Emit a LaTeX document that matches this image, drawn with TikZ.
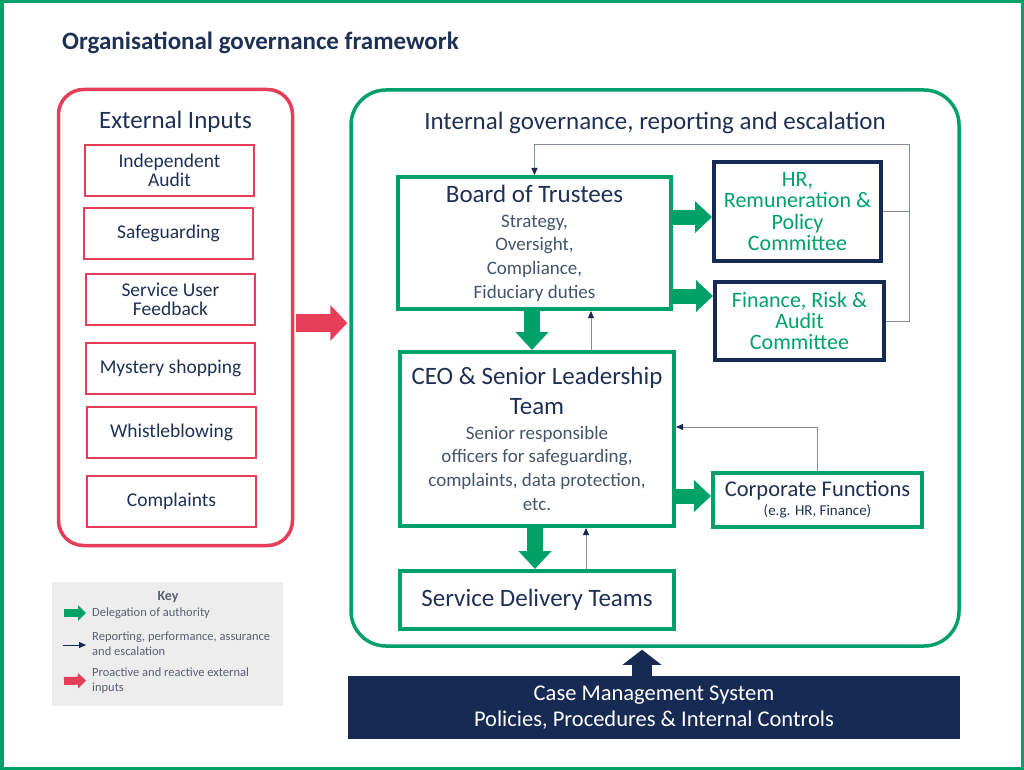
\documentclass[tikz,border=0pt]{standalone}
\usepackage{fontspec}
\setmainfont{Carlito}
\usetikzlibrary{positioning, arrows.meta, calc}

\definecolor{govgreen}{RGB}{0,160,105}
\definecolor{govred}{RGB}{230,62,88}
\definecolor{govnavy}{RGB}{23,42,84}
\definecolor{titlenavy}{RGB}{31,48,85}
\definecolor{bodygrey}{RGB}{68,84,106}
\definecolor{linegrey}{RGB}{130,140,158}
\definecolor{keygrey}{RGB}{237,237,237}
\definecolor{keytext}{RGB}{89,96,110}

\newcommand{\gsize}[2]{\fontsize{#1}{#2}\selectfont}
\newcommand{\ttl}[1]{{\color{titlenavy}\gsize{25}{25}#1}}

\begin{document}
\begin{tikzpicture}[x=1pt,y=-1pt]
\tikzstyle{extitem}=[draw=govred, line width=1.2pt, minimum width=169pt, minimum height=51pt, inner sep=0pt, align=center, text=titlenavy, font=\gsize{19.5}{19.5}]
\tikzstyle{govbox}=[draw=govgreen, line width=4pt, inner sep=0pt, align=center, text=bodygrey, font=\gsize{19}{23.7}]
\tikzstyle{navybox}=[draw=govnavy, line width=4pt, inner sep=0pt, align=center, text=govgreen, font=\gsize{22}{21.4}]
\tikzstyle{heading}=[inner sep=0pt, text=titlenavy, font=\gsize{25}{25}]
\tikzstyle{greenarrow}=[draw=govgreen, line width=15pt, -{Triangle[length=17pt,width=31pt]}]
\tikzstyle{redarrow}=[draw=govred, line width=18pt, -{Triangle[length=17pt,width=35pt]}]
\tikzstyle{navyarrow}=[draw=govnavy, line width=20pt, -{Triangle[length=15pt,width=38pt]}]
\tikzstyle{report}=[draw=linegrey, line width=1pt, -{Triangle[length=7pt,width=6pt,color=govnavy]}]
\tikzstyle{keylabel}=[anchor=west, inner sep=0pt, align=left, text=keytext, font=\gsize{12.5}{15.5}]

\useasboundingbox (0,0) rectangle (1024,770);
\draw[govgreen, line width=3.5pt] (1.75,1.75) rectangle (1022.25,768.25);

\node[anchor=base west, inner sep=0pt, text=titlenavy, font=\bfseries\gsize{25}{30}] (title) at (62,50) {Organisational governance framework};

% external inputs
\node[draw=govred, line width=3.5pt, rounded corners=25pt, minimum width=234pt, minimum height=456pt] (ext) at (175.5,317.5) {};
\node[heading] (exttitle) at (175.5,122) {External Inputs};

\node[extitem] (audit)   at (169.5,170.5) {Independent\\Audit};
\node[extitem] (safe)    at (168.5,233.5) {Safeguarding};
\node[extitem] (feedback) at (170.5,299.5) {Service User\\Feedback};
\node[extitem] (mystery) at (170.5,368.5) {Mystery shopping};
\node[extitem] (whistle) at (171.5,432.5) {Whistleblowing};
\node[extitem] (complain) at (171.5,501.5) {Complaints};

% internal governance
\node[draw=govgreen, line width=3.5pt, rounded corners=35pt, minimum width=608pt, minimum height=556pt] (int) at (655,368) {};
\node[heading] (inttitle) at (655,123) {Internal governance, reporting and escalation};

\node[govbox, minimum width=273pt, minimum height=132pt] (board) at (534.5,243)
  {\ttl{Board of Trustees}\\[1.5pt] Strategy,\\ Oversight,\\ Compliance,\\ Fiduciary duties};
\node[navybox, minimum width=167pt, minimum height=99pt] (hr) at (797.5,211.5) {HR,\\Remuneration \&\\Policy\\Committee};
\node[navybox, minimum width=169pt, minimum height=78pt] (fin) at (799.5,321) {Finance, Risk \&\\Audit\\Committee};

\node[govbox, minimum width=274pt, minimum height=174pt] (ceo) at (537,439)
  {\ttl{CEO \& Senior Leadership}\\[5.5pt]\ttl{Team}\\[1.5pt] Senior responsible\\ officers for safeguarding,\\ complaints, data protection,\\ etc.};
\node[govbox, minimum width=209pt, minimum height=54pt, text=titlenavy, font=\gsize{15}{19}] (corp) at (817.5,500)
  {{\gsize{22.5}{22.5}Corporate Functions}\\(e.g. HR, Finance)};
\node[govbox, minimum width=274pt, minimum height=58pt, text=titlenavy, font=\gsize{25}{25}] (sdt) at (537,600) {Service Delivery Teams};

\node[fill=govnavy, minimum width=612pt, minimum height=63pt, inner sep=0pt, align=center, text=white, font=\gsize{22.5}{26}] (cms) at (654,707.5)
  {Case Management System\\Policies, Procedures \& Internal Controls};

% delegation
\draw[greenarrow] ([yshift=26pt]board.east) -- ([yshift=26pt]board.east -| hr.west);
\draw[greenarrow] ([yshift=-53pt]board.east) -- ([yshift=-53pt]board.east -| fin.west);
\draw[greenarrow, line width=16pt, -{Triangle[length=18pt,width=32pt]}] ([xshift=-2.5pt]board.south) -- ([xshift=-2.5pt]board.south |- ceo.north);
\draw[greenarrow, line width=16pt, -{Triangle[length=18pt,width=32pt]}] ([xshift=-2pt]ceo.south) -- ([xshift=-2pt]ceo.south |- sdt.north);
\draw[greenarrow] ([yshift=-57pt]ceo.east) -- ([yshift=-57pt]ceo.east -| corp.west);

% reporting
\coordinate (loop) at (909,145);
\path[draw, linegrey, line width=1pt] (hr.east) -- (hr.east -| loop);
\draw[report] (fin.east) -| (loop) -| (board.north);
\draw[report] ([xshift=54pt]ceo.north) -- ([xshift=54pt]ceo.north |- board.south);
\draw[report] ([xshift=49pt]sdt.north) -- ([xshift=49pt]sdt.north |- ceo.south);
\draw[report] (corp.north) |- ([yshift=12pt]ceo.east);

% inputs
\draw[redarrow] ($(ext.east)+(2,5.5)$) -- ($(int.west)+(-2,-45)$);
\draw[navyarrow] ([xshift=-12pt]cms.north) -- ([xshift=-12pt,yshift=-2pt]cms.north |- int.south);

% key
\node[fill=keygrey, minimum width=231pt, minimum height=124pt, inner sep=0pt] (key) at (167.5,643.5) {};
\node[inner sep=0pt, text=keytext, font=\bfseries\gsize{14}{16}] (keytitle) at (168,597) {Key};
\node[keylabel] (keydel) at (92,613) {Delegation of authority};
\node[keylabel] (keyrep) at (92,643.5) {Reporting, performance, assurance\\and escalation};
\node[keylabel] (keyinp) at (92,680.5) {Proactive and reactive external\\inputs};
\coordinate (kg) at (64,613);
\coordinate (kn) at (63,645);
\coordinate (kr) at (64,681);
\draw[greenarrow, line width=8pt, -{Triangle[length=8pt,width=15pt]}] (kg) -- ([xshift=-6pt]keydel.west);
\draw[report, draw=govnavy] (kn) -- ([xshift=-6pt,yshift=-1.5pt]keyrep.west);
\draw[redarrow, line width=8pt, -{Triangle[length=8pt,width=15pt]}] (kr) -- ([xshift=-6pt]keyinp.west);

\end{tikzpicture}
\end{document}
